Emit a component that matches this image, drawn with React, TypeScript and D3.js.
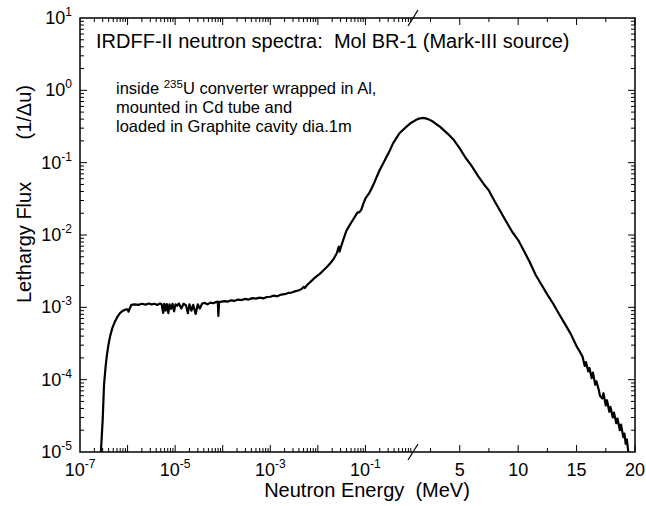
import React from 'react';
import * as d3 from 'd3';

// spectrum below 1 MeV (log energy axis)
const lowEnergy = [
  2.75e-7, 3.0e-7, 3.2e-7, 3.45e-7, 3.65e-7, 3.95e-7, 4.3e-7, 4.8e-7, 5.4e-7, 6.2e-7,
  7.0e-7, 8.0e-7, 9.0e-7, 1.0e-6, 1.05e-6, 1.1e-6, 1.2e-6, 1.4e-6, 1.7e-6, 2.0e-6,
  2.4e-6, 2.8e-6, 3.2e-6, 3.7e-6, 4.2e-6, 4.8e-6, 5.2e-6, 5.6e-6, 5.9e-6, 6.3e-6,
  6.7e-6, 7.2e-6, 7.6e-6, 8.2e-6, 8.8e-6, 9.5e-6, 1.02e-5, 1.1e-5, 1.2e-5, 1.35e-5,
  1.5e-5, 1.7e-5, 1.85e-5, 2.0e-5, 2.2e-5, 2.4e-5, 2.7e-5, 3.0e-5, 3.3e-5, 3.7e-5,
  4.2e-5, 4.8e-5, 5.5e-5, 6.3e-5, 7.2e-5, 7.9e-5, 8.1e-5, 8.4e-5, 9.5e-5, 1.1e-4,
  1.3e-4, 1.5e-4, 1.8e-4, 2.1e-4, 2.5e-4, 3.0e-4, 3.5e-4, 4.2e-4, 5.0e-4, 6.0e-4,
  7.2e-4, 8.5e-4, 1.0e-3, 1.2e-3, 1.4e-3, 1.7e-3, 2.0e-3, 2.4e-3, 2.8e-3, 3.3e-3,
  4.0e-3, 4.6e-3, 5.0e-3, 5.3e-3, 6.0e-3, 7.0e-3, 8.0e-3, 9.5e-3, 1.1e-2, 1.35e-2,
  1.6e-2, 1.9e-2, 2.2e-2, 2.5e-2, 2.75e-2, 2.85e-2, 3.1e-2, 3.5e-2, 4.0e-2, 4.6e-2,
  5.4e-2, 6.2e-2, 6.8e-2, 7.4e-2, 8.2e-2, 9.0e-2, 0.1, 0.11, 0.12, 0.13,
  0.15, 0.175, 0.2, 0.24, 0.28, 0.33, 0.38, 0.45, 0.52, 0.62,
  0.75, 0.88,
];
const lowFlux = [
  1.0e-5, 2.8e-5, 8.5e-5, 1.5e-4, 2.1e-4, 3.0e-4, 4.0e-4, 5.2e-4, 6.3e-4, 7.5e-4,
  8.4e-4, 9.0e-4, 9.3e-4, 9.4e-4, 8.7e-4, 9.5e-4, 1.08e-3, 1.1e-3, 1.08e-3, 1.12e-3,
  1.09e-3, 1.13e-3, 1.1e-3, 1.12e-3, 1.08e-3, 1.13e-3, 1.1e-3, 8.4e-4, 1.12e-3, 9.0e-4,
  1.11e-3, 8.3e-4, 1.1e-3, 9.5e-4, 1.12e-3, 8.8e-4, 1.1e-3, 1.05e-3, 1.13e-3, 9.6e-4,
  1.12e-3, 1.06e-3, 8.3e-4, 1.1e-3, 9.0e-4, 1.08e-3, 8.1e-4, 1.1e-3, 9.6e-4, 1.13e-3,
  1.15e-3, 1.1e-3, 1.16e-3, 1.14e-3, 1.18e-3, 1.2e-3, 7.6e-4, 1.18e-3, 1.2e-3, 1.22e-3,
  1.2e-3, 1.25e-3, 1.23e-3, 1.28e-3, 1.26e-3, 1.31e-3, 1.28e-3, 1.34e-3, 1.32e-3, 1.36e-3,
  1.33e-3, 1.39e-3, 1.4e-3, 1.45e-3, 1.42e-3, 1.5e-3, 1.52e-3, 1.58e-3, 1.6e-3, 1.66e-3,
  1.72e-3, 1.8e-3, 1.92e-3, 1.85e-3, 2.05e-3, 2.25e-3, 2.45e-3, 2.7e-3, 2.9e-3, 3.3e-3,
  3.7e-3, 4.2e-3, 4.8e-3, 5.6e-3, 6.9e-3, 5.9e-3, 7.0e-3, 9.0e-3, 0.0115, 0.0135,
  0.016, 0.0185, 0.0205, 0.0205, 0.0225, 0.027, 0.032, 0.035, 0.038, 0.042,
  0.051, 0.065, 0.079, 0.1, 0.122, 0.15, 0.185, 0.22, 0.255, 0.285,
  0.32, 0.35,
];

// spectrum 1-20 MeV (linear energy axis)
const fastEnergy = [
  1.0, 1.2, 1.4, 1.6, 1.8, 2.0, 2.3, 2.7, 3.0, 3.3,
  3.7, 4.1, 4.5, 5.0, 5.5, 6.0, 6.5, 7.0, 7.5, 8.0,
  8.5, 9.0, 9.5, 10.0, 10.5, 11.0, 11.5, 12.0, 12.5, 13.0,
  13.5, 14.0, 14.5, 15.0, 15.3, 15.5, 15.7, 15.8, 16.0, 16.1,
  16.3, 16.4, 16.6, 16.7, 16.9, 17.0, 17.2, 17.3, 17.5, 17.6,
  17.8, 17.9, 18.1, 18.2, 18.4, 18.5, 18.7, 18.8, 19.0, 19.1,
  19.2, 19.3, 19.4, 19.5,
];
const fastFlux = [
  0.368, 0.385, 0.4, 0.41, 0.415, 0.413, 0.4, 0.37, 0.34, 0.315,
  0.275, 0.24, 0.205, 0.158, 0.117, 0.091, 0.068, 0.052, 0.041, 0.029,
  0.021, 0.0151, 0.011, 8.5e-3, 6.0e-3, 4.2e-3, 2.8e-3, 2.05e-3, 1.5e-3, 1.12e-3,
  8.1e-4, 5.9e-4, 4.3e-4, 2.9e-4, 2.4e-4, 2.1e-4, 1.55e-4, 1.75e-4, 1.3e-4, 1.45e-4,
  1.05e-4, 1.25e-4, 8.5e-5, 9.5e-5, 7.2e-5, 6.0e-5, 5.5e-5, 6.5e-5, 4.4e-5, 5.2e-5,
  3.6e-5, 4.2e-5, 3.0e-5, 3.5e-5, 2.5e-5, 2.9e-5, 2.0e-5, 2.4e-5, 1.6e-5, 1.8e-5,
  1.3e-5, 1.5e-5, 1.1e-5, 8.0e-6,
];

const yExponents = [1, 0, -1, -2, -3, -4, -5];
const xLogLabelExponents = [-7, -5, -3, -1];
const xLinMajor = [5, 10, 15, 20];
const xLinMinor = [2.5, 7.5, 12.5, 17.5];
const noteLines = ['mounted in Cd tube and', 'loaded in Graphite cavity dia.1m'];

const W = 646;
const H = 506;
const left = 80, right = 635, top = 18, bottom = 452;
const xBreak = 413;
const font = "'Liberation Sans', Arial, Helvetica, sans-serif";

export default function App() {
  const xLog = d3.scaleLog().domain([1e-7, 1]).range([left, xBreak]);
  const xLin = d3.scaleLinear().domain([1, 20]).range([xBreak, right]);
  const x = (e: number) => (e < 1 ? xLog(e) : xLin(e));
  const y = d3.scaleLog().domain([1e-5, 10]).range([bottom, top]);

  const pts: [number, number][] = [
    ...lowEnergy.map((e, i) => [e, lowFlux[i]] as [number, number]),
    ...fastEnergy.map((e, i) => [e, fastFlux[i]] as [number, number]),
  ];
  const line = d3.line<[number, number]>().x(d => x(d[0])).y(d => y(d[1]));

  const isDecade = (v: number) => Math.abs(Math.log10(v) - Math.round(Math.log10(v))) < 1e-6;
  const xLogTicks = xLog.ticks().filter(v => v > 1e-7 && v < 1);
  const yTicks = y.ticks().filter(v => v > 1e-5 && v < 10);

  const tick = '#000';
  return (
    <svg width={W} height={H} style={{ position: 'absolute', left: 0, top: 0 }} fontFamily={font}>
      <rect width={W} height={H} fill="#fff" />
      <defs>
        <clipPath id="plot">
          <rect x={left} y={top} width={right - left} height={bottom - top} />
        </clipPath>
      </defs>

      {/* log x ticks, bottom and top */}
      {xLogTicks.map((v, i) => {
        const len = isDecade(v) ? 7 : 4;
        const xx = xLog(v);
        return (
          <g key={'xl' + i} stroke={tick} strokeWidth={1}>
            <line x1={xx} x2={xx} y1={bottom} y2={bottom - len} />
            <line x1={xx} x2={xx} y1={top} y2={top + len} />
          </g>
        );
      })}
      {xLinMajor.concat(xLinMinor).map((v, i) => {
        const len = xLinMajor.includes(v) ? 7 : 4;
        const xx = xLin(v);
        return (
          <g key={'xn' + i} stroke={tick} strokeWidth={1}>
            <line x1={xx} x2={xx} y1={bottom} y2={bottom - len} />
            <line x1={xx} x2={xx} y1={top} y2={top + len} />
          </g>
        );
      })}
      {yTicks.map((v, i) => {
        const len = isDecade(v) ? 7 : 4;
        const yy = y(v);
        return (
          <g key={'y' + i} stroke={tick} strokeWidth={1}>
            <line x1={left} x2={left + len} y1={yy} y2={yy} />
            <line x1={right} x2={right - len} y1={yy} y2={yy} />
          </g>
        );
      })}

      <rect x={left} y={top} width={right - left} height={bottom - top} fill="none" stroke="#000" strokeWidth={1.5} />

      {/* axis break marks */}
      <line x1={xBreak - 5} y1={top + 8} x2={xBreak + 5} y2={top - 8} stroke="#000" strokeWidth={1.2} />
      <line x1={xBreak - 5} y1={bottom + 8} x2={xBreak + 5} y2={bottom - 8} stroke="#000" strokeWidth={1.2} />

      <path d={line(pts) || ''} fill="none" stroke="#000" strokeWidth={2.2} strokeLinejoin="round" clipPath="url(#plot)" />

      {/* y labels */}
      {yExponents.map(p => (
        <text key={'yl' + p} x={72} y={y(Math.pow(10, p)) + 6} textAnchor="end" fontSize={18}>
          10<tspan fontSize={12} dy={-8}>{p}</tspan>
        </text>
      ))}
      {xLogLabelExponents.map(p => (
        <text key={'xll' + p} x={xLog(Math.pow(10, p))} y={476} textAnchor="middle" fontSize={18}>
          10<tspan fontSize={12} dy={-8}>{p}</tspan>
        </text>
      ))}
      {xLinMajor.map(v => (
        <text key={'xnl' + v} x={xLin(v)} y={476} textAnchor="middle" fontSize={18}>
          {v}
        </text>
      ))}

      <text x={367} y={497} textAnchor="middle" fontSize={20}>Neutron Energy{'\u00A0\u00A0'}(MeV)</text>
      <text transform="translate(31,303) rotate(-90)" fontSize={20}>Lethargy Flux</text>
      <text transform="translate(31,85) rotate(-90)" textAnchor="end" fontSize={20}>(1/Δu)</text>

      <text x={96} y={48} fontSize={20}>IRDFF-II neutron spectra:{'\u00A0\u00A0'}Mol BR-1 (Mark-III source)</text>
      <text x={116} y={94} fontSize={16.5}>
        inside <tspan fontSize={11.5} dy={-6}>235</tspan><tspan dy={6}>U converter wrapped in Al,</tspan>
      </text>
      {noteLines.map((t, i) => (
        <text key={t} x={116} y={113 + i * 19} fontSize={16.5}>{t}</text>
      ))}
    </svg>
  );
}
